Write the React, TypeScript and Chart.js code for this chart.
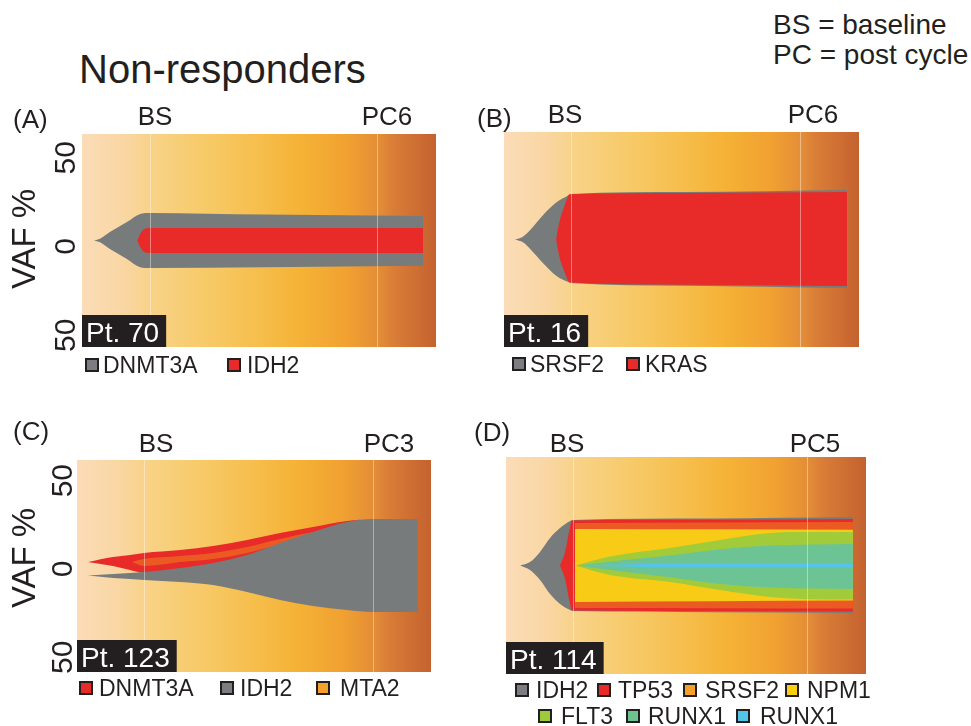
import React, { useEffect, useRef } from "react";
import { Chart, registerables } from "chart.js";

Chart.register(...registerables);

const W = 971;
const H = 726;
const FONT = '"Liberation Sans", Arial, Helvetica, sans-serif';
const INK = "#231f20";

// ---------- colours ----------
const GRAY = "#777b7b";
const RED = "#e82b29";
const ORANGE_RED = "#ec5a24";
const YELLOW = "#f8cc16";
const LIME = "#a2cb3a";
const TEAL = "#6cc495";
const CYAN = "#55c4e6";

const LEG_GRAY = "#7b7d80";
const LEG_RED = "#e82b29";
const LEG_ORANGE = "#f5a02a";
const LEG_YELLOW = "#f9d00e";
const LEG_LIME = "#9ccb3b";
const LEG_GREEN = "#6ec28f";
const LEG_CYAN = "#51c4e8";

const GRADIENT_STOPS: [number, string][] = [
  [0, "#fbdcb8"],
  [0.12, "#f9d6a2"],
  [0.2, "#f8d287"],
  [0.35, "#f7ca68"],
  [0.5, "#f6be4c"],
  [0.62, "#f5b236"],
  [0.75, "#f1a131"],
  [0.84, "#e38d37"],
  [0.88, "#d97d37"],
  [1, "#c4622f"],
];

// ---------- shared axis values ----------
const vafTicks = [50, 0, -50];
const vafMin = -60;
const vafMax = 60;

// ---------- Panel A : Pt. 70 ----------
const aTimeLabels = ["BS", "PC6"];
const aTimePoints = [0, 6];
const aGenes = ["DNMT3A", "IDH2"];
const aDnmt3aX = [-1.48, -1.32, -1.06, -0.61, -0.26, 0, 3, 7.22];
const aDnmt3aTop = [0, 1.0, 4.8, 10.4, 15.0, 15.5, 14.6, 13.8];
const aDnmt3aBottom = [0, -1.0, -4.8, -10.4, -15.0, -15.5, -15.0, -14.2];
const aIdh2X = [-0.34, -0.22, -0.05, 3, 7.22];
const aIdh2Top = [0, 5, 7, 7, 7];
const aIdh2Bottom = [0, -5, -7, -7, -7];

// ---------- Panel B : Pt. 16 ----------
const bTimeLabels = ["BS", "PC6"];
const bTimePoints = [0, 6];
const bGenes = ["SRSF2", "KRAS"];
const bSrsf2X = [-1.47, -1.26, -1.07, -0.73, -0.37, -0.1, 0, 3, 7.23];
const bSrsf2Top = [0, 1.6, 5.3, 13.7, 20.9, 24.3, 25.4, 26.5, 27.6];
const bSrsf2Bottom = [0, -1.6, -5.3, -13.2, -20.5, -23.5, -24.3, -25.8, -27.1];
const bKrasX = [-0.39, -0.31, -0.18, -0.03, 3, 7.23];
const bKrasTop = [0, 9.2, 18.1, 25.2, 26.0, 26.5];
const bKrasBottom = [0, -9.0, -17.5, -24.0, -25.2, -26.0];

// ---------- Panel C : Pt. 123 ----------
const cTimeLabels = ["BS", "PC3"];
const cTimePoints = [0, 3];
const cGenes = ["DNMT3A", "IDH2", "MTA2"];
const cDnmt3aX = [-0.734, -0.406, -0.183, 0, 0.472, 0.904, 1.349, 1.782, 2.214, 2.659, 2.83];
const cDnmt3aTop = [2.26, 5.09, 6.23, 7.36, 9.05, 11.32, 14.71, 18.68, 22.07, 25.47, 26.2];
const cDnmt3aBottom = [2.26, 0, -2.26, -3.9, -1.6, 1.2, 5.7, 12.5, 18.7, 24.4, 26.0];
const cIdh2X = [-0.734, -0.406, -0.183, 0, 0.472, 0.904, 1.349, 1.782, 2.214, 2.659, 3.0, 3.59];
const cIdh2Top = [-5.4, -4.53, -3.96, -3.4, -1.13, 1.7, 6.23, 13.02, 19.24, 24.9, 26.6, 26.6];
const cIdh2Bottom = [-5.4, -6.79, -7.4, -7.92, -9.05, -10.75, -14.71, -19.24, -22.64, -24.9, -26.03, -26.03];
const cMta2X = [-0.157, 0, 0.472, 0.904, 1.349, 1.782, 2.214, 2.371];
const cMta2Top = [2.26, 3.96, 5.66, 7.36, 10.75, 15.28, 19.24, 20.37];
const cMta2Bottom = [2.26, 0, 2.26, 3.96, 7.36, 12.45, 18.68, 20.37];

// ---------- Panel D : Pt. 114 ----------
const dTimeLabels = ["BS", "PC5"];
const dTimePoints = [0, 5];
const dGenes = ["IDH2", "TP53", "SRSF2", "NPM1", "FLT3", "RUNX1", "RUNX1"];
const dIdh2X = [-1.13, -0.919, -0.705, -0.491, -0.278, -0.064, 0, 3, 5.98];
const dIdh2Top = [0, 1.9, 7.5, 15.2, 20.7, 24.6, 25.2, 26.0, 26.8];
const dIdh2Bottom = [0, -2.5, -8.0, -15.8, -21.3, -24.6, -25.2, -25.8, -26.3];
const dTp53X = [-0.278, -0.17, -0.085, -0.02, 3, 5.98];
const dTp53Top = [0, 7.5, 18.5, 24.9, 25.3, 25.7];
const dTp53Bottom = [0, -7.5, -18.5, -24.9, -25.2, -25.4];
const dSrsf2X = [0.04, 3, 5.98];
const dSrsf2Top = [23.5, 23.8, 24.0];
const dSrsf2Bottom = [-23.5, -23.6, -23.8];
const dNpm1X = [0.04, 3, 5.98];
const dNpm1Top = [20.2, 20.0, 19.8];
const dNpm1Bottom = [-20.2, -19.8, -19.4];
const dFlt3X = [0.05, 0.79, 2.07, 3.14, 4.21, 4.91, 5.98];
const dFlt3Top = [0, 5.0, 9.7, 14.1, 18.0, 18.5, 18.5];
const dFlt3Bottom = [0, -5.3, -9.1, -13.5, -17.4, -18.5, -18.8];
const dRunx1aX = [0.1, 1.0, 2.07, 3.14, 4.21, 5.98];
const dRunx1aTop = [0, 2.8, 5.5, 9.0, 11.0, 11.9];
const dRunx1aBottom = [0, -3.2, -6.5, -10.2, -12.2, -13.0];
const dRunx1bX = [0.1, 2.0, 5.98];
const dRunx1bTop = [0, 0.9, 1.1];
const dRunx1bBottom = [0, -0.9, -1.1];

type Clone = { name: string; fill: string; x: number[]; top: number[]; bottom: number[] };
type LegendItem = { name: string; color: string; sq: number; tx: number; base: number };
type PanelCfg = {
  id: string;
  letter: string;
  letterPos: [number, number];
  area: { L: number; T: number; R: number; B: number };
  xMin: number;
  xMax: number;
  timePoints: number[];
  timeLabels: string[];
  labelOffsets: number[];
  labelBase: number;
  showY: boolean;
  tickBaseX?: number;
  tickShift?: number;
  vafX?: number;
  vafY?: number;
  pt: string;
  clones: Clone[];
  legend: LegendItem[];
};

const panels: PanelCfg[] = [
  {
    id: "A",
    letter: "(A)",
    letterPos: [13, 128],
    area: { L: 82, T: 134, R: 436, B: 347 },
    xMin: -1.797,
    xMax: 7.56,
    timePoints: aTimePoints,
    timeLabels: aTimeLabels,
    labelOffsets: [5, 10],
    labelBase: 125,
    showY: true,
    tickBaseX: 75,
    tickShift: 6,
    vafX: 35,
    vafY: 239,
    pt: "Pt. 70",
    clones: [
      { name: aGenes[0], fill: GRAY, x: aDnmt3aX, top: aDnmt3aTop, bottom: aDnmt3aBottom },
      { name: aGenes[1], fill: RED, x: aIdh2X, top: aIdh2Top, bottom: aIdh2Bottom },
    ],
    legend: [
      { name: aGenes[0], color: LEG_GRAY, sq: 85, tx: 103, base: 373 },
      { name: aGenes[1], color: LEG_RED, sq: 227, tx: 247, base: 373 },
    ],
  },
  {
    id: "B",
    letter: "(B)",
    letterPos: [477, 127],
    area: { L: 504, T: 132, R: 859, B: 347 },
    xMin: -1.755,
    xMax: 7.545,
    timePoints: bTimePoints,
    timeLabels: bTimeLabels,
    labelOffsets: [-6, 13],
    labelBase: 123,
    showY: false,
    pt: "Pt. 16",
    clones: [
      { name: bGenes[0], fill: GRAY, x: bSrsf2X, top: bSrsf2Top, bottom: bSrsf2Bottom },
      { name: bGenes[1], fill: RED, x: bKrasX, top: bKrasTop, bottom: bKrasBottom },
    ],
    legend: [
      { name: bGenes[0], color: LEG_GRAY, sq: 512, tx: 530, base: 372 },
      { name: bGenes[1], color: LEG_RED, sq: 626, tx: 645, base: 372 },
    ],
  },
  {
    id: "C",
    letter: "(C)",
    letterPos: [13, 440],
    area: { L: 77, T: 460, R: 431, B: 672 },
    xMin: -0.878,
    xMax: 3.76,
    timePoints: cTimePoints,
    timeLabels: cTimeLabels,
    labelOffsets: [12, 16],
    labelBase: 452,
    showY: true,
    tickBaseX: 72,
    tickShift: 3,
    vafX: 35,
    vafY: 558,
    pt: "Pt. 123",
    clones: [
      { name: cGenes[0], fill: RED, x: cDnmt3aX, top: cDnmt3aTop, bottom: cDnmt3aBottom },
      { name: cGenes[2], fill: ORANGE_RED, x: cMta2X, top: cMta2Top, bottom: cMta2Bottom },
      { name: cGenes[1], fill: GRAY, x: cIdh2X, top: cIdh2Top, bottom: cIdh2Bottom },
    ],
    legend: [
      { name: cGenes[0], color: LEG_RED, sq: 79, tx: 99, base: 696 },
      { name: cGenes[1], color: LEG_GRAY, sq: 220, tx: 240, base: 696 },
      { name: cGenes[2], color: LEG_ORANGE, sq: 316, tx: 340, base: 696 },
    ],
  },
  {
    id: "D",
    letter: "(D)",
    letterPos: [474, 441],
    area: { L: 506, T: 457, R: 866, B: 674 },
    xMin: -1.432,
    xMax: 6.26,
    timePoints: dTimePoints,
    timeLabels: dTimeLabels,
    labelOffsets: [-6, 8],
    labelBase: 452,
    showY: false,
    pt: "Pt. 114",
    clones: [
      { name: dGenes[0], fill: GRAY, x: dIdh2X, top: dIdh2Top, bottom: dIdh2Bottom },
      { name: dGenes[1], fill: RED, x: dTp53X, top: dTp53Top, bottom: dTp53Bottom },
      { name: dGenes[2], fill: ORANGE_RED, x: dSrsf2X, top: dSrsf2Top, bottom: dSrsf2Bottom },
      { name: dGenes[3], fill: YELLOW, x: dNpm1X, top: dNpm1Top, bottom: dNpm1Bottom },
      { name: dGenes[4], fill: LIME, x: dFlt3X, top: dFlt3Top, bottom: dFlt3Bottom },
      { name: dGenes[5], fill: TEAL, x: dRunx1aX, top: dRunx1aTop, bottom: dRunx1aBottom },
      { name: dGenes[6], fill: CYAN, x: dRunx1bX, top: dRunx1bTop, bottom: dRunx1bBottom },
    ],
    legend: [
      { name: dGenes[0], color: LEG_GRAY, sq: 515, tx: 536, base: 698 },
      { name: dGenes[1], color: LEG_RED, sq: 597, tx: 618, base: 698 },
      { name: dGenes[2], color: LEG_ORANGE, sq: 683, tx: 705, base: 698 },
      { name: dGenes[3], color: LEG_YELLOW, sq: 785, tx: 807, base: 698 },
      { name: dGenes[4], color: LEG_LIME, sq: 538, tx: 561, base: 724 },
      { name: dGenes[5], color: LEG_GREEN, sq: 626, tx: 648, base: 724 },
      { name: dGenes[6], color: LEG_CYAN, sq: 736, tx: 760, base: 724 },
    ],
  },
];

function buildDatasets(clones: Clone[]) {
  const ds: any[] = [];
  clones.forEach((c, i) => {
    const order = 100 - i;
    ds.push({
      label: c.name + " upper",
      data: c.x.map((x, j) => ({ x, y: c.top[j] })),
      backgroundColor: c.fill,
      borderColor: "transparent",
      borderWidth: 0,
      pointRadius: 0,
      pointHoverRadius: 0,
      fill: { target: "+1", above: c.fill, below: c.fill },
      cubicInterpolationMode: "monotone",
      order,
    });
    ds.push({
      label: c.name + " lower",
      data: c.x.map((x, j) => ({ x, y: c.bottom[j] })),
      backgroundColor: c.fill,
      borderColor: "transparent",
      borderWidth: 0,
      pointRadius: 0,
      pointHoverRadius: 0,
      fill: false,
      cubicInterpolationMode: "monotone",
      order,
    });
  });
  return ds;
}

function rotText(ctx: CanvasRenderingContext2D, text: string, x: number, y: number) {
  ctx.save();
  ctx.translate(x, y);
  ctx.rotate(-Math.PI / 2);
  ctx.textAlign = "center";
  ctx.textBaseline = "alphabetic";
  ctx.fillText(text, 0, 0);
  ctx.restore();
}

function decorPlugin(cfg: PanelCfg) {
  return {
    id: "fishDecor" + cfg.id,
    beforeDatasetsDraw(chart: any) {
      const { ctx, chartArea: a } = chart;
      ctx.save();
      const g = ctx.createLinearGradient(a.left, 0, a.right, 0);
      GRADIENT_STOPS.forEach(([o, c]) => g.addColorStop(o, c));
      ctx.fillStyle = g;
      ctx.fillRect(a.left, a.top, a.right - a.left, a.bottom - a.top);
      ctx.restore();
    },
    afterDatasetsDraw(chart: any) {
      const { ctx, chartArea: a } = chart;
      const xs = chart.scales.x;
      ctx.save();
      ctx.strokeStyle = "rgba(255,255,255,0.4)";
      ctx.lineWidth = 1;
      cfg.timePoints.forEach((t) => {
        const px = Math.round(xs.getPixelForValue(t)) + 0.5;
        ctx.beginPath();
        ctx.moveTo(px, a.top);
        ctx.lineTo(px, a.bottom);
        ctx.stroke();
      });
      ctx.restore();
    },
    afterDraw(chart: any) {
      const { ctx, chartArea: a } = chart;
      const xs = chart.scales.x;
      const ys = chart.scales.y;
      ctx.save();
      ctx.fillStyle = INK;
      ctx.textBaseline = "alphabetic";
      // panel letter
      ctx.font = `26px ${FONT}`;
      ctx.textAlign = "left";
      ctx.fillText(cfg.letter, cfg.letterPos[0], cfg.letterPos[1]);
      // time point labels
      ctx.textAlign = "center";
      cfg.timePoints.forEach((t, i) => {
        ctx.fillText(cfg.timeLabels[i], xs.getPixelForValue(t) + cfg.labelOffsets[i], cfg.labelBase);
      });
      // y axis
      if (cfg.showY) {
        ctx.font = `30px ${FONT}`;
        vafTicks.forEach((v) => {
          rotText(ctx, String(Math.abs(v)), cfg.tickBaseX!, ys.getPixelForValue(v) + cfg.tickShift!);
        });
        ctx.font = `33px ${FONT}`;
        rotText(ctx, "VAF %", cfg.vafX!, cfg.vafY!);
      }
      // patient box
      ctx.font = `28px ${FONT}`;
      ctx.textAlign = "left";
      const tw = ctx.measureText(cfg.pt).width;
      ctx.fillStyle = INK;
      ctx.fillRect(a.left, a.bottom - 32, tw + 11, 32);
      ctx.fillStyle = "#ffffff";
      ctx.fillText(cfg.pt, a.left + 4, a.bottom - 5);
      // legend
      ctx.font = `23px ${FONT}`;
      cfg.legend.forEach((it) => {
        const top = it.base - 15;
        ctx.fillStyle = INK;
        ctx.fillRect(it.sq, top, 14, 14);
        ctx.fillStyle = it.color;
        ctx.fillRect(it.sq + 2, top + 2, 10, 10);
        ctx.fillStyle = INK;
        ctx.fillText(it.name, it.tx, it.base);
      });
      ctx.restore();
    },
  };
}

function FishPanel({ cfg }: { cfg: PanelCfg }) {
  const ref = useRef<HTMLCanvasElement>(null);
  useEffect(() => {
    const chart = new Chart(ref.current as HTMLCanvasElement, {
      type: "line",
      data: { datasets: buildDatasets(cfg.clones) },
      options: {
        animation: false,
        responsive: false,
        maintainAspectRatio: false,
        events: [],
        layout: {
          padding: { left: cfg.area.L, top: cfg.area.T, right: W - cfg.area.R, bottom: H - cfg.area.B },
        },
        scales: {
          x: { type: "linear", min: cfg.xMin, max: cfg.xMax, display: false },
          y: { type: "linear", min: vafMin, max: vafMax, display: false },
        },
        plugins: { legend: { display: false }, tooltip: { enabled: false }, title: { display: false } },
      } as any,
      plugins: [decorPlugin(cfg) as any],
    });
    return () => chart.destroy();
  }, [cfg]);
  return (
    <canvas
      ref={ref}
      width={W}
      height={H}
      style={{ position: "absolute", left: 0, top: 0, width: W, height: H }}
    />
  );
}

export default function App() {
  return (
    <div
      style={{
        position: "absolute",
        left: 0,
        top: 0,
        width: W,
        height: H,
        background: "#ffffff",
        overflow: "hidden",
        fontFamily: FONT,
        color: INK,
      }}
    >
      <div style={{ position: "absolute", left: 79, top: 49, fontSize: 40, lineHeight: "40px", whiteSpace: "nowrap" }}>
        Non-responders
      </div>
      <div style={{ position: "absolute", left: 773, top: 10, fontSize: 28, lineHeight: "30px", whiteSpace: "nowrap" }}>
        BS = baseline
        <br />
        PC = post cycle
      </div>
      {panels.map((p) => (
        <FishPanel key={p.id} cfg={p} />
      ))}
    </div>
  );
}
